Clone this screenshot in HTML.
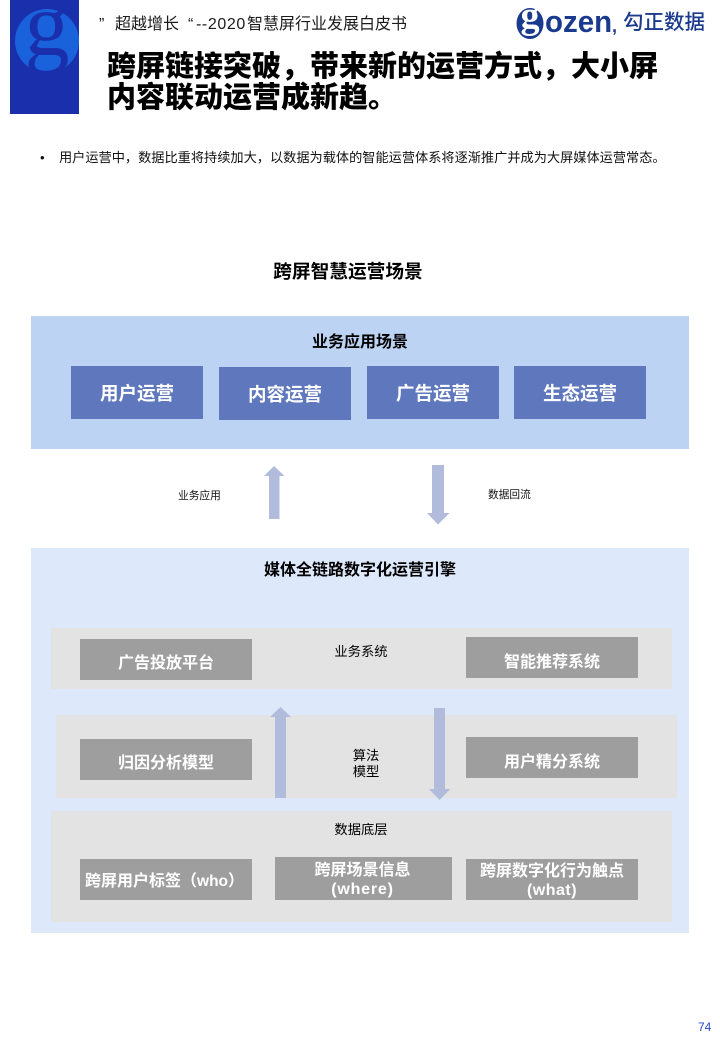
<!DOCTYPE html>
<html lang="zh-CN">
<head>
<meta charset="utf-8">
<title>跨屏智慧运营场景</title>
<style>
html,body{margin:0;padding:0;background:#fff}
body{position:relative;width:720px;height:1040px;overflow:hidden;font-family:"Liberation Sans","Noto Sans CJK SC",sans-serif;color:#000}
.a{position:absolute;white-space:nowrap}
.r{position:absolute}
.c{position:absolute;display:flex;align-items:center;justify-content:center;text-align:center;white-space:nowrap;box-sizing:border-box}
.blue{background:#5f77bd;color:#fff;font-size:18.5px;font-weight:700;line-height:1;padding-top:4px}
.gray{background:#9e9e9e;color:#fff;font-size:16px;font-weight:700;line-height:19px}
.lab{font-size:13.3px;line-height:16px}
.sub{top:15px;font-size:16px;line-height:20px;color:#1b1b1b}
svg{position:absolute;left:0;top:0}
</style>
</head>
<body>
<svg width="720" height="120" viewBox="0 0 720 120">
  <rect x="10" y="0" width="69" height="114" fill="#1a2fab"/>
  <circle cx="47" cy="41" r="32" fill="#1a62dc"/>
  <text x="47" y="55" text-anchor="middle" font-family="Liberation Serif" font-size="90" fill="#1a2fab">g</text>
  <ellipse cx="530" cy="23.500" rx="13.500" ry="15.500" fill="#1a3a8e"/>
  <text x="530" y="28" text-anchor="middle" font-family="Liberation Serif" font-weight="700" font-size="38" fill="#fff">g</text>
</svg>

<div class="a sub" style="left:99px">”</div>
<div class="a sub" style="left:115px">超越增长</div>
<div class="a sub" style="left:188px">“</div>
<div class="a sub" style="left:196px;letter-spacing:.6px">--2020</div>
<div class="a sub" style="left:247px">智慧屏行业发展白皮书</div>

<div class="a" style="left:545px;top:4px;font-size:31px;line-height:36px;font-weight:700;color:#1a3a8e;transform-origin:0 50%;transform:scaleX(.95)">ozen</div>
<div class="a" style="left:612px;top:16px;font-size:18px;line-height:20px;font-weight:700;color:#1a3a8e">,</div>
<div class="a" style="left:623px;top:11px;font-size:20.5px;line-height:24px;font-weight:500;color:#1a3a8e">勾正数据</div>

<div class="a" style="left:107px;top:52px;font-size:29px;line-height:31px;font-weight:900">跨屏链接突破，带来新的运营方式，大小屏<br>内容联动运营成新趋。</div>

<div class="a" style="left:40px;top:149px;font-size:13.2px;line-height:18px;color:#111">•</div>
<div class="a" style="left:59px;top:149px;font-size:13.2px;line-height:18px;color:#111">用户运营中，数据比重将持续加大，以数据为载体的智能运营体系将逐渐推广并成为大屏媒体运营常态。</div>

<div class="c" style="left:231px;top:259px;width:234px;height:22px;font-size:18.7px;font-weight:700">跨屏智慧运营场景</div>

<div class="r" style="left:31px;top:316px;width:658px;height:133px;background:#bdd3f4"></div>
<div class="c" style="left:260px;top:330px;width:200px;height:20px;font-size:16px;font-weight:700">业务应用场景</div>
<div class="c blue" style="left:71px;top:366px;width:132px;height:53px">用户运营</div>
<div class="c blue" style="left:219px;top:367px;width:132px;height:53px">内容运营</div>
<div class="c blue" style="left:367px;top:366px;width:132px;height:53px">广告运营</div>
<div class="c blue" style="left:514px;top:366px;width:132px;height:53px">生态运营</div>

<div class="a" style="left:178px;top:489px;font-size:10.7px;line-height:15px;color:#111">业务应用</div>
<div class="a" style="left:488px;top:488px;font-size:10.7px;line-height:15px;color:#111">数据回流</div>

<div class="r" style="left:31px;top:548px;width:658px;height:385px;background:#dde8fa"></div>
<div class="c" style="left:210px;top:558px;width:300px;height:20px;font-size:16px;font-weight:700">媒体全链路数字化运营引擎</div>

<div class="r" style="left:51px;top:628px;width:621px;height:61px;background:#e3e3e3"></div>
<div class="r" style="left:56px;top:715px;width:621px;height:83px;background:#e3e3e3"></div>
<div class="r" style="left:51px;top:811px;width:621px;height:111px;background:#e3e3e3"></div>

<svg width="720" height="1040" viewBox="0 0 720 1040">
  <g fill="#b1bcdd">
    <polygon points="274,466 284.500,476 279.500,476 279.500,519 269,519 269,476 264,476"/>
    <polygon points="432,465 444,465 444,513 449.500,513 438,524.500 427,513 432,513"/>
    <polygon points="280.500,707 291,717 286,717 286,798 275,798 275,717 270,717"/>
    <polygon points="434,708 445,708 445,789 450.500,789 439.500,800 429,789 434,789"/>
  </g>
</svg>

<div class="c lab" style="left:311px;top:644px;width:100px;height:16px">业务系统</div>
<div class="c lab" style="left:316px;top:748px;width:100px;height:32px"><div>算法<br>模型</div></div>
<div class="c lab" style="left:311px;top:822px;width:100px;height:16px">数据底层</div>

<div class="c gray" style="left:80px;top:639px;width:172px;height:41px;padding-top:7px">广告投放平台</div>
<div class="c gray" style="left:466px;top:637px;width:172px;height:41px;padding-top:9px">智能推荐系统</div>
<div class="c gray" style="left:80px;top:739px;width:172px;height:41px;padding-top:7px">归因分析模型</div>
<div class="c gray" style="left:466px;top:737px;width:172px;height:41px;padding-top:9px">用户精分系统</div>
<div class="c gray" style="left:80px;top:859px;width:172px;height:41px;justify-content:flex-start;padding-left:5px;padding-top:3px"><div>跨屏用户标签（<span style="font-size:15.5px">who</span>）</div></div>
<div class="c gray" style="left:275px;top:857px;width:177px;height:43px;padding-right:2px;padding-top:2px"><div>跨屏场景信息<br><span style="letter-spacing:.8px">(where)</span></div></div>
<div class="c gray" style="left:466px;top:859px;width:172px;height:41px;padding-top:2px"><div>跨屏数字化行为触点<br><span style="letter-spacing:.5px">(what)</span></div></div>

<div class="a" style="left:698px;top:1020px;font-size:12px;line-height:14px;color:#2a4bc8">74</div>
</body>
</html>
